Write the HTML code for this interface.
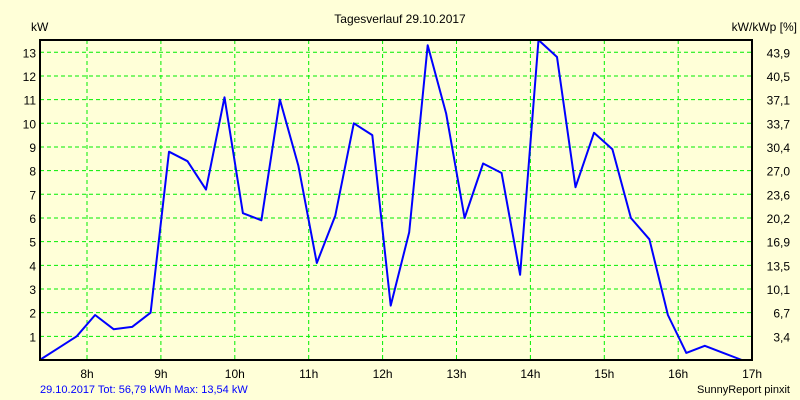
<!DOCTYPE html>
<html><head><meta charset="utf-8"><style>
body{margin:0;background:#ffffd8;}
svg{display:block;font-family:"Liberation Sans",sans-serif;}
</style></head><body>
<svg id="chart" width="800" height="400" viewBox="0 0 800 400">
<rect x="0" y="0" width="800" height="400" fill="#ffffd8"/>
<text x="400" y="23" font-size="12" text-anchor="middle">Tagesverlauf 29.10.2017</text>
<text x="31" y="31" font-size="12">kW</text>
<text x="797" y="31" font-size="12" text-anchor="end">kW/kWp [%]</text>
<g id="grid"></g>
<g id="marks"></g>
<rect x="40" y="40" width="712" height="320" fill="none" stroke="#000" stroke-width="2"/>
<text x="40" y="393" font-size="11" fill="#0000ff">29.10.2017 Tot: 56,79 kWh Max: 13,54 kW</text>
<text x="790" y="393" font-size="11" text-anchor="end">SunnyReport pinxit</text>
</svg>
<script>
const hourTicks=[8,9,10,11,12,13,14,15,16,17];
const yTicks=[1,2,3,4,5,6,7,8,9,10,11,12,13];
const rightLabels=["3,4","6,7","10,1","13,5","16,9","20,2","23,6","27,0","30,4","33,7","37,1","40,5","43,9"];
const times=[7.36,7.61,7.86,8.11,8.36,8.61,8.86,9.11,9.36,9.61,9.86,10.11,10.36,10.61,10.86,11.11,11.36,11.61,11.86,12.11,12.36,12.61,12.86,13.11,13.36,13.61,13.86,14.11,14.36,14.61,14.86,15.11,15.36,15.61,15.86,16.11,16.36,16.61,16.86,17.0];
const power=[0,0.5,1.0,1.9,1.3,1.4,2.0,8.8,8.4,7.2,11.1,6.2,5.9,11.0,8.2,4.1,6.1,10.0,9.5,2.3,5.4,13.3,10.4,6.0,8.3,7.9,3.6,13.54,12.8,7.3,9.6,8.9,6.0,5.1,1.9,0.3,0.6,0.3,0,0];
const NS="http://www.w3.org/2000/svg";
const xs=h=>87+(h-8)*73.9;
const ys=v=>360-v*23.67;
const grid=document.getElementById('grid'),marks=document.getElementById('marks');
function mk(tag,attrs,parent,txt){const e=document.createElementNS(NS,tag);for(const k in attrs)e.setAttribute(k,attrs[k]);if(txt!==undefined)e.textContent=txt;parent.appendChild(e);return e;}
hourTicks.forEach(h=>{
  const x=xs(h);
  if(x<751){const l=mk('line',{x1:x,x2:x,y1:40,y2:360,stroke:'#00ee00','stroke-dasharray':'4,3','stroke-width':1},grid);
  
  }
  const t=mk('text',{x:x,y:378,'font-size':12,'text-anchor':'middle'},grid,h+'h');
  
  
});
yTicks.forEach((v,i)=>{
  const y=ys(v);
  const l=mk('line',{x1:40,x2:752,y1:y,y2:y,stroke:'#00ee00','stroke-dasharray':'4,3','stroke-width':1},grid);
  
  
  const t=mk('text',{x:36,y:y+5,'font-size':12,'text-anchor':'end'},grid,String(v));
  
  
  const r=mk('text',{x:790,y:y+5,'font-size':12,'text-anchor':'end'},grid,rightLabels[i]);
  
  
});
const pts=times.map((t,i)=>Math.min(xs(t),752).toFixed(1)+','+Math.max(ys(power[i]),40).toFixed(1)).join(' ');
const line=mk('polyline',{points:pts,fill:'none',stroke:'#0000ff','stroke-width':2,'stroke-linejoin':'round'},marks);


</script>
</body></html>
